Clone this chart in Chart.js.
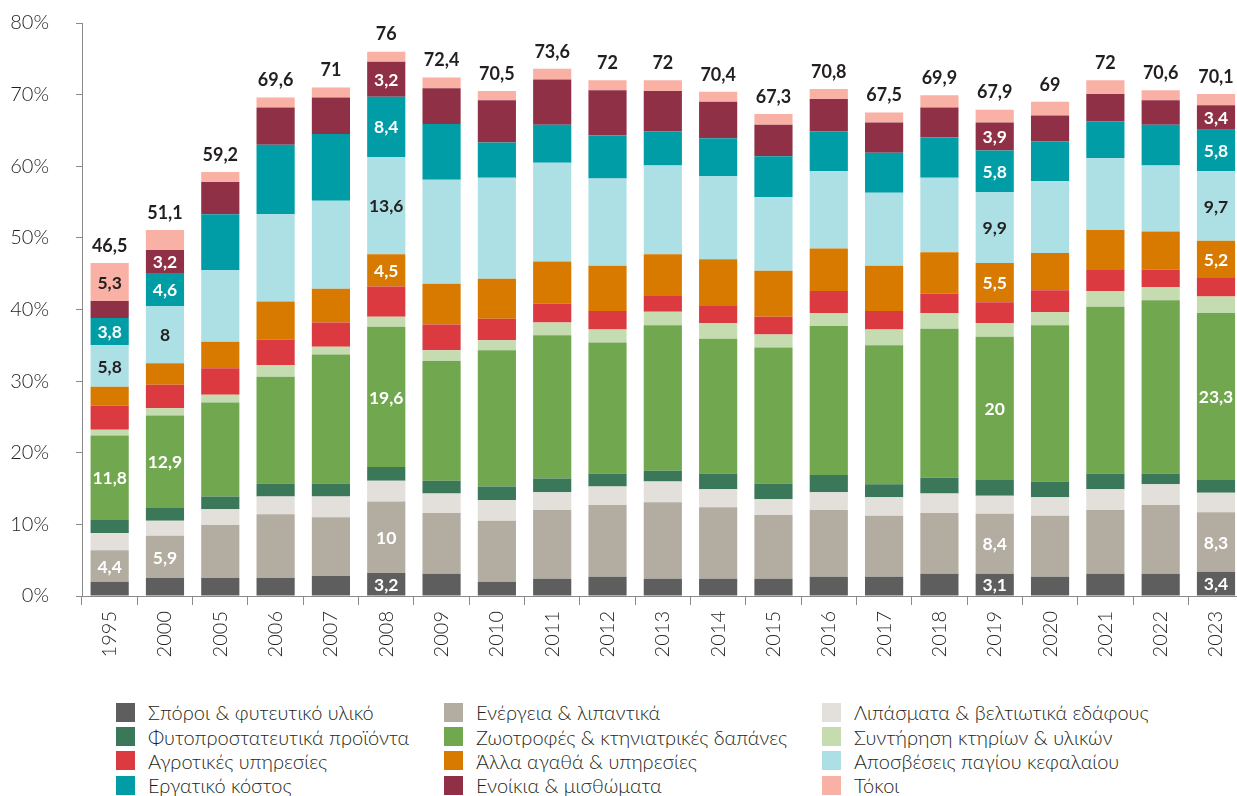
<!DOCTYPE html>
<html>
  <head>
    <meta charset="utf-8">
    <title>Κόστος παραγωγής</title>
    <script src="https://cdn.jsdelivr.net/npm/chart.js"></script>
    <style>
    body{
    	margin: 0;
    	background-color: white;
    	overflow: hidden;
    	width: 1237px;
    	height: 796px;
    	position: relative;
    }
    #wrap{ position: absolute; left: 0; top: -16px; }
    #legend{
    	position: absolute;
    	left: 116px;
    	top: 700px;
    	display: grid;
    	grid-template-columns: 328px 378px auto;
    	grid-auto-rows: 24.4px;
    	font-family: Lato, sans-serif;
    	font-weight: 300;
    	font-size: 20px;
    	color: #231f20;
    }
    #legend div{ display: flex; align-items: center; white-space: nowrap; }
    #legend span.sw{ width: 19px; height: 19px; margin-right: 13px; flex: none; }
  	</style>
  </head>
  <body>

    <div id="wrap">
      <canvas id="costs" width="1246" height="706"></canvas>
    </div>
    <div id="legend"></div>

  <script type="text/javascript">

  var years = ["1995", "2000", "2005", "2006", "2007", "2008", "2009", "2010", "2011", "2012", "2013",
               "2014", "2015", "2016", "2017", "2018", "2019", "2020", "2021", "2022", "2023"];

  // % values, bottom of the stack first
  var seeds       = [2.0, 2.5, 2.5, 2.5, 2.8, 3.2, 3.1, 2.0, 2.4, 2.7, 2.4, 2.4, 2.4, 2.7, 2.7, 3.1, 3.1, 2.7, 3.1, 3.1, 3.4];
  var energy      = [4.4, 5.9, 7.4, 8.9, 8.2, 10.0, 8.5, 8.5, 9.6, 10.0, 10.7, 10.0, 8.9, 9.3, 8.5, 8.5, 8.4, 8.5, 8.9, 9.6, 8.3];
  var fertilizers = [2.4, 2.1, 2.2, 2.5, 2.9, 2.9, 2.7, 2.9, 2.5, 2.6, 2.9, 2.5, 2.2, 2.5, 2.6, 2.7, 2.5, 2.6, 2.9, 2.9, 2.7];
  var pesticides  = [1.8, 1.8, 1.8, 1.8, 1.8, 1.9, 1.8, 1.9, 1.9, 1.8, 1.5, 2.2, 2.2, 2.4, 1.8, 2.2, 2.2, 2.2, 2.2, 1.5, 1.8];
  var feed        = [11.8, 12.9, 13.1, 14.9, 18.0, 19.6, 16.7, 19.0, 20.0, 18.3, 20.3, 18.8, 19.0, 20.8, 19.4, 20.8, 20.0, 21.8, 23.3, 24.2, 23.3];
  var maintenance = [0.8, 1.0, 1.1, 1.6, 1.1, 1.4, 1.5, 1.4, 1.8, 1.8, 1.9, 2.2, 1.8, 1.8, 2.2, 2.2, 1.9, 1.8, 2.2, 1.8, 2.3];
  var services    = [3.4, 3.3, 3.7, 3.6, 3.4, 4.2, 3.6, 3.0, 2.6, 2.6, 2.2, 2.5, 2.5, 3.1, 2.6, 2.7, 2.9, 3.1, 2.9, 2.5, 2.6];
  var otherGoods  = [2.6, 3.0, 3.7, 5.3, 4.7, 4.5, 5.7, 5.6, 5.9, 6.3, 5.8, 6.4, 6.4, 5.9, 6.3, 5.8, 5.5, 5.2, 5.6, 5.3, 5.2];
  var depreciation= [5.8, 8.0, 10.0, 12.2, 12.3, 13.6, 14.5, 14.1, 13.8, 12.2, 12.4, 11.6, 10.3, 10.8, 10.2, 10.4, 9.9, 10.0, 10.0, 9.2, 9.7];
  var labour      = [3.8, 4.6, 7.8, 9.7, 9.3, 8.4, 7.8, 4.9, 5.3, 6.0, 4.8, 5.3, 5.7, 5.6, 5.6, 5.6, 5.8, 5.6, 5.2, 5.7, 5.8];
  var rents       = [2.4, 3.2, 4.5, 5.2, 5.1, 4.9, 5.0, 5.9, 6.3, 6.3, 5.6, 5.1, 4.4, 4.5, 4.2, 4.2, 3.9, 3.6, 3.8, 3.4, 3.4];
  var interest    = [5.3, 2.8, 1.4, 1.4, 1.4, 1.4, 1.5, 1.3, 1.5, 1.4, 1.5, 1.4, 1.5, 1.4, 1.4, 1.7, 1.8, 1.9, 1.9, 1.4, 1.6];

  // labels printed inside the segments (same order as the stack)
  var labels1995 = [null, "4,4", null, null, "11,8", null, null, null, "5,8", "3,8", null, "5,3"];
  var labels2000 = [null, "5,9", null, null, "12,9", null, null, null, "8", "4,6", "3,2", null];
  var labels2008 = ["3,2", "10", null, null, "19,6", null, null, "4,5", "13,6", "8,4", "3,2", null];
  var labels2019 = ["3,1", "8,4", null, null, "20", null, null, "5,5", "9,9", "5,8", "3,9", null];
  var labels2023 = ["3,4", "8,3", null, null, "23,3", null, null, "5,2", "9,7", "5,8", "3,4", null];
  var segLabels = { "1995": labels1995, "2000": labels2000, "2008": labels2008, "2019": labels2019, "2023": labels2023 };

  var series = [
    { name: "Σπόροι & φυτευτικό υλικό",          data: seeds,        color: "#5e5e5e", text: "#fff" },
    { name: "Ενέργεια & λιπαντικά",              data: energy,       color: "#b3aca1", text: "#fff" },
    { name: "Λιπάσματα & βελτιωτικά εδάφους",    data: fertilizers,  color: "#e3dfdb", text: "#231f20" },
    { name: "Φυτοπροστατευτικά προϊόντα",        data: pesticides,   color: "#3b7759", text: "#fff" },
    { name: "Ζωοτροφές & κτηνιατρικές δαπάνες",  data: feed,         color: "#70a74f", text: "#fff" },
    { name: "Συντήρηση κτηρίων & υλικών",        data: maintenance,  color: "#c5dcb0", text: "#231f20" },
    { name: "Αγροτικές υπηρεσίες",               data: services,     color: "#db3a40", text: "#fff" },
    { name: "Άλλα αγαθά & υπηρεσίες",            data: otherGoods,   color: "#d87a00", text: "#fff" },
    { name: "Αποσβέσεις παγίου κεφαλαίου",       data: depreciation, color: "#ade0e4", text: "#231f20" },
    { name: "Εργατικό κόστος",                   data: labour,       color: "#009da7", text: "#fff" },
    { name: "Ενοίκια & μισθώματα",               data: rents,        color: "#903046", text: "#fff" },
    { name: "Τόκοι",                             data: interest,     color: "#f9b0a5", text: "#231f20" }
  ];

  function fmt(v){
  	return (Math.round(v * 10) / 10).toString().replace(".", ",");
  }

  // segment values + totals on top
  var barText = {
  	id: "barText",
  	afterDatasetsDraw: function(chart){
  		var ctx = chart.ctx;
  		ctx.save();
  		ctx.textAlign = "center";
  		ctx.textBaseline = "middle";
  		ctx.font = "bold 17.5px Lato, sans-serif";
  		chart.data.datasets.forEach(function(ds, d){
  			var meta = chart.getDatasetMeta(d);
  			meta.data.forEach(function(bar, i){
  				var row = segLabels[years[i]];
  				if (!row || !row[d]) return;
  				var p = bar.getProps(["x", "y", "base"], true);
  				ctx.fillStyle = series[d].text;
  				ctx.fillText(row[d], p.x, (p.y + p.base) / 2 + 1);
  			});
  		});
  		var top = chart.getDatasetMeta(chart.data.datasets.length - 1);
  		ctx.fillStyle = "#231f20";
  		ctx.font = "bold 18px Lato, sans-serif";
  		years.forEach(function(y, i){
  			var total = 0;
  			series.forEach(function(s){ total += s.data[i]; });
  			var p = top.data[i].getProps(["x", "y"], true);
  			ctx.fillText(fmt(total), p.x, p.y - 17);
  		});
  		ctx.restore();
  	}
  };

  var ctx = document.getElementById("costs").getContext("2d");
  var chart = new Chart(ctx, {
  	type: "bar",
  	data: {
  		labels: years,
  		datasets: series.map(function(s){
  			return { label: s.name, data: s.data, backgroundColor: s.color, borderWidth: 0,
  			         barPercentage: 0.69, categoryPercentage: 1 };
  		})
  	},
  	options: {
  		responsive: false,
  		animation: false,
  		layout: { padding: { top: 6, right: 0, bottom: 0, left: 0 } },
  		plugins: { legend: { display: false }, tooltip: { enabled: false } },
  		scales: {
  			x: {
  				stacked: true,
  				afterFit: function(scale){ scale.height = 94; },
  				border: { display: true, color: "#8a8a8a", width: 1 },
  				grid: { display: true, drawOnChartArea: false, drawTicks: true, tickLength: 9, color: "#8a8a8a", offset: true },
  				ticks: { minRotation: 90, maxRotation: 90, padding: 6, color: "#231f20",
  				         font: { family: "Lato, sans-serif", weight: 300, size: 20 } }
  			},
  			y: {
  				stacked: true,
  				min: 0,
  				max: 80,
  				afterFit: function(scale){ scale.width = 82; },
  				border: { display: true, color: "#8a8a8a", width: 1 },
  				grid: { display: true, drawOnChartArea: false, drawTicks: true, tickLength: 6, color: "#8a8a8a" },
  				ticks: { stepSize: 10, padding: 27, color: "#231f20",
  				         font: { family: "Lato, sans-serif", weight: 300, size: 20 },
  				         callback: function(v){ return v + "%"; } }
  			}
  		}
  	},
  	plugins: [barText]
  });

  // legend, three columns, row by row
  var legend = document.getElementById("legend");
  chart.data.datasets.forEach(function(ds){
  	var item = document.createElement("div");
  	var sw = document.createElement("span");
  	sw.className = "sw";
  	sw.style.background = ds.backgroundColor;
  	item.appendChild(sw);
  	item.appendChild(document.createTextNode(ds.label));
  	legend.appendChild(item);
  });

  </script>
  </body>
</html>
